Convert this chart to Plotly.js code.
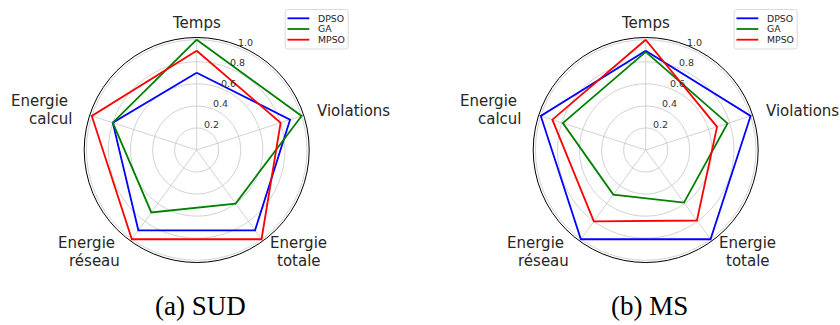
<!DOCTYPE html>
<html>
<head>
<meta charset="utf-8">
<script src="https://cdn.plot.ly/plotly-3.0.1.min.js"></script>
<style>
  html, body { margin: 0; padding: 0; background: #fff; }
  #chart { width: 840px; height: 325px; }
</style>
</head>
<body>
<div id="chart"></div>
<script>
// Criteria (axes of each radar)
const categories = ['Temps', 'Violations', 'Energie totale', 'Energie réseau', 'Energie calcul'];

// Algorithms compared
const seriesNames = ['DPSO', 'GA', 'MPSO'];
const seriesColors = ['#0000ff', '#008000', '#ff0000'];

// Normalised scores, scenario SUD
const sudDPSO = [0.70, 0.89, 0.90, 0.90, 0.80];
const sudGA   = [1.00, 1.00, 0.60, 0.70, 0.80];
const sudMPSO = [0.90, 0.80, 1.00, 1.00, 1.00];

// Normalised scores, scenario MS
const msDPSO = [0.90, 1.00, 1.00, 1.00, 1.00];
const msGA   = [0.89, 0.78, 0.59, 0.50, 0.79];
const msMPSO = [1.00, 0.68, 0.79, 0.80, 0.89];

// Radial ticks
const radialTicks = [0.2, 0.4, 0.6, 0.8, 1.0];
const radialTickText = ['0.2', '0.4', '0.6', '0.8', '1.0'];
const radialMax = 1.02;

// Sub-figure captions
const captions = ['(a) SUD', '(b) MS'];

const W = 840, H = 325;
const R = 112.5;                 // outer circle radius in px
const centers = [[196.7, 150], [645.7, 150]];
const px = x => x / W;
const py = y => 1 - y / H;

const panels = [
  { subplot: 'polar',  values: [sudDPSO, sudGA, sudMPSO] },
  { subplot: 'polar2', values: [msDPSO, msGA, msMPSO] }
];

const closed = arr => arr.concat([arr[0]]);

const traces = [];
panels.forEach(p => {
  p.values.forEach((vals, i) => {
    traces.push({
      type: 'scatterpolar',
      subplot: p.subplot,
      r: closed(vals),
      theta: closed(categories),
      mode: 'lines',
      name: seriesNames[i],
      line: { color: seriesColors[i], width: 1.8 },
      showlegend: false,
      hoverinfo: 'skip'
    });
  });
});

const radialAngle = 67.5;

function polarLayout(c) {
  return {
    domain: { x: [px(c[0] - R), px(c[0] + R)], y: [py(c[1] + R), py(c[1] - R)] },
    bgcolor: '#ffffff',
    angularaxis: {
      type: 'category',
      categoryarray: categories,
      rotation: 90,
      direction: 'clockwise',
      showticklabels: false,
      ticks: '',
      showline: true,
      linecolor: '#000000',
      linewidth: 1,
      gridcolor: '#c6c6c6',
      gridwidth: 0.8
    },
    radialaxis: {
      range: [0, radialMax],
      tickvals: radialTicks,
      showticklabels: false,
      angle: radialAngle,
      showline: false,
      ticks: '',
      gridcolor: '#c6c6c6',
      gridwidth: 0.8
    }
  };
}

// Placement of the criterion labels around each radar (relative to centre)
const labelFont = { family: 'DejaVu Sans', size: 15, color: '#262626' };
const labelSpec = [
  { dx: 0,      dy: -127,   anchor: 'center' },
  { dx: 118.5,  dy: -39,    anchor: 'left' },
  { dx: 102,    dy: 102,    anchor: 'center' },
  { dx: -75,    dy: 102,    anchor: 'right' },
  { dx: -121.7, dy: -40,    anchor: 'right' }
];
const lineGap = 17.8;

const annotations = [];
const shapes = [];

centers.forEach((c, k) => {
  // radial tick labels, set beside the 67.5° axis
  const unit = R / radialMax;
  const a = radialAngle * Math.PI / 180;
  radialTicks.forEach((v, t) => {
    annotations.push({
      xref: 'paper', yref: 'paper',
      x: px(c[0] + v * unit * Math.cos(a) + 6.8),
      y: py(c[1] - v * unit * Math.sin(a) - 5.5),
      xanchor: 'center', yanchor: 'middle',
      text: radialTickText[t], showarrow: false,
      font: { family: 'DejaVu Sans', size: 9.5, color: '#333333' }
    });
  });

  categories.forEach((cat, j) => {
    const s = labelSpec[j];
    const words = cat.split(' ');
    words.forEach((w, li) => {
      const txt = (s.anchor === 'right' && li < words.length - 1) ? w + '\u00a0' : w;
      const yy = c[1] + s.dy + (li - (words.length - 1) / 2) * lineGap;
      annotations.push({
        xref: 'paper', yref: 'paper',
        x: px(c[0] + s.dx), y: py(yy),
        xanchor: s.anchor, yanchor: 'middle',
        text: txt, showarrow: false,
        font: labelFont
      });
    });
  });

  // caption under each radar
  annotations.push({
    xref: 'paper', yref: 'paper',
    x: px(c[0] + 4), y: py(306),
    xanchor: 'center', yanchor: 'middle',
    text: captions[k], showarrow: false,
    font: { family: 'Liberation Serif', size: 27, color: '#000000' }
  });

  // legend box
  const bx0 = c[0] + 88.5, bx1 = c[0] + 151.5, by0 = 9.5, by1 = 49;
  const rr = 2.5;
  const X = v => px(v), Y = v => py(v);
  shapes.push({
    type: 'path', xref: 'paper', yref: 'paper',
    path: `M ${X(bx0 + rr)} ${Y(by0)} L ${X(bx1 - rr)} ${Y(by0)} Q ${X(bx1)} ${Y(by0)} ${X(bx1)} ${Y(by0 + rr)} ` +
          `L ${X(bx1)} ${Y(by1 - rr)} Q ${X(bx1)} ${Y(by1)} ${X(bx1 - rr)} ${Y(by1)} ` +
          `L ${X(bx0 + rr)} ${Y(by1)} Q ${X(bx0)} ${Y(by1)} ${X(bx0)} ${Y(by1 - rr)} ` +
          `L ${X(bx0)} ${Y(by0 + rr)} Q ${X(bx0)} ${Y(by0)} ${X(bx0 + rr)} ${Y(by0)} Z`,
    line: { color: '#d0d0d0', width: 0.8 },
    fillcolor: 'rgba(255,255,255,0.8)'
  });
  seriesNames.forEach((n, i) => {
    const yy = 18.3 + i * 10.7;
    shapes.push({
      type: 'line', xref: 'paper', yref: 'paper',
      x0: px(c[0] + 90.8), x1: px(c[0] + 112.6), y0: py(yy), y1: py(yy),
      line: { color: seriesColors[i], width: 1.8 }
    });
    annotations.push({
      xref: 'paper', yref: 'paper',
      x: px(c[0] + 119.5), y: py(yy),
      xanchor: 'left', yanchor: 'middle',
      text: n, showarrow: false,
      font: { family: 'DejaVu Sans', size: 9.3, color: '#262626' }
    });
  });
});

const layout = {
  width: W, height: H,
  margin: { l: 0, r: 0, t: 0, b: 0 },
  paper_bgcolor: '#ffffff',
  showlegend: false,
  polar: polarLayout(centers[0]),
  polar2: polarLayout(centers[1]),
  annotations: annotations,
  shapes: shapes
};

Plotly.newPlot('chart', traces, layout, { staticPlot: true, displayModeBar: false });
</script>
</body>
</html>
